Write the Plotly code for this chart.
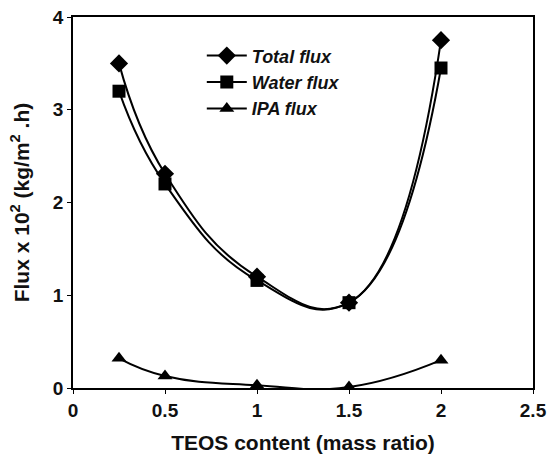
import plotly.graph_objects as go

teos = [0.25, 0.5, 1.0, 1.5, 2.0]
total_flux = [3.50, 2.31, 1.20, 0.92, 3.75]
water_flux = [3.20, 2.20, 1.16, 0.92, 3.45]
ipa_flux = [0.32, 0.13, 0.03, 0.01, 0.30]

series = [
    ("Total flux", total_flux, "diamond", 14),
    ("Water flux", water_flux, "square", 13),
    ("IPA flux", ipa_flux, "triangle-up", 13),
]

fig = go.Figure()
for name, vals, sym, sz in series:
    fig.add_trace(go.Scatter(
        x=teos, y=vals, name=name, mode="lines+markers",
        line=dict(color="black", width=2, shape="spline", smoothing=1.3),
        marker=dict(symbol=sym, size=sz, color="black"),
    ))

font = "Liberation Sans, Arial, sans-serif"
fig.update_layout(
    width=549, height=459, autosize=False,
    margin=dict(l=73, r=16, t=17, b=71, autoexpand=False),
    paper_bgcolor="white", plot_bgcolor="white",
    showlegend=True,
    legend=dict(
        x=0.28, y=0.945, xanchor="left", yanchor="top",
        font=dict(family=font, size=18, color="#111", style="italic", weight="bold"),
        bgcolor="rgba(0,0,0,0)", borderwidth=0,
        itemwidth=40, tracegroupgap=9,
    ),
    font=dict(family=font, color="#111"),
)
fig.update_xaxes(
    range=[0, 2.5], tickvals=[0, 0.5, 1, 1.5, 2, 2.5],
    ticktext=["0", "0.5", "1", "1.5", "2", "2.5"],
    showline=True, linecolor="black", linewidth=1.5, mirror=True,
    ticks="outside", ticklen=4, tickcolor="black",
    showgrid=False, zeroline=False, automargin=False,
    tickfont=dict(size=19, weight="bold"),
    title=dict(text="TEOS content (mass ratio)", font=dict(size=21, weight="bold"), standoff=16),
)
fig.update_yaxes(
    range=[0, 4], tickvals=[0, 1, 2, 3, 4],
    showline=True, linecolor="black", linewidth=1.5, mirror=True,
    ticks="outside", ticklen=4, tickcolor="black",
    showgrid=False, zeroline=False, automargin=False,
    tickfont=dict(size=19, weight="bold"),
    title=dict(text="Flux x 10<sup>2</sup> (kg/m<sup>2</sup> .h)", font=dict(size=21, weight="bold"), standoff=18),
)

fig.write_html("out.html")
